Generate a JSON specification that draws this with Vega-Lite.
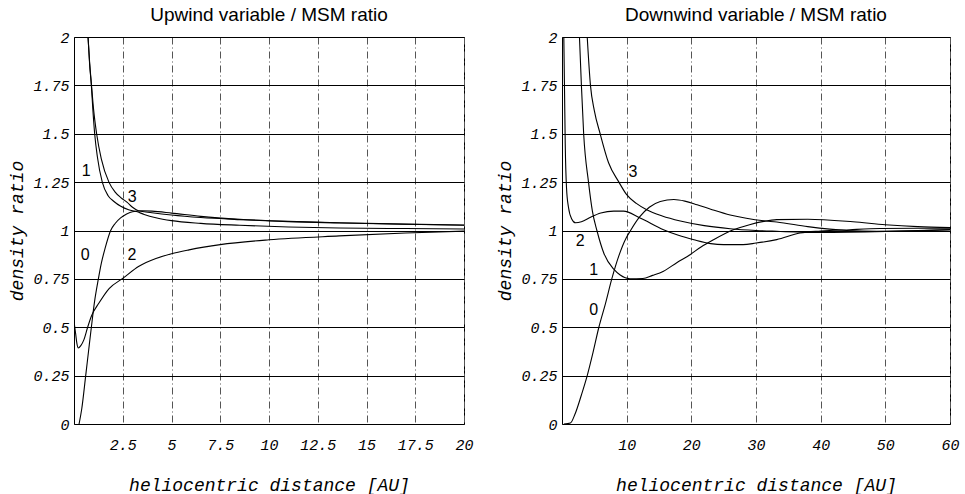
{
  "$schema": "https://vega.github.io/schema/vega-lite/v6.json",
  "background": "white",
  "padding": {"left": 8, "top": 5, "right": 5, "bottom": 0},
  "bounds": "flush",
  "spacing": 98,
  "config": {
    "view": {"stroke": "black", "strokeWidth": 1},
    "axis": {
      "labelFont": "Liberation Mono", "labelFontStyle": "italic", "labelFontSize": 15, "labelColor": "black",
      "titleFont": "Liberation Mono", "titleFontStyle": "italic", "titleFontWeight": "normal", "titleFontSize": 18, "titleColor": "black",
      "domain": false, "ticks": false, "labelFlush": false, "labelOverlap": false
    },
    "axisX": {"gridColor": "#555", "gridDash": [7, 3, 1, 3], "gridWidth": 1, "gridOpacity": 1, "labelPadding": 13, "titlePadding": 24},
    "axisY": {"gridColor": "black", "gridWidth": 1, "gridOpacity": 1, "labelPadding": 5, "titlePadding": 6},
    "title": {"font": "Liberation Sans", "fontSize": 19, "fontWeight": "normal", "color": "black", "offset": 5, "anchor": "middle"}
  },
  "datasets": {
    "up": [
      {"c": 0, "x": 0.26, "y": 0}, {"c": 0, "x": 0.4, "y": 0.08}, {"c": 0, "x": 0.6, "y": 0.25}, {"c": 0, "x": 0.75, "y": 0.38}, {"c": 0, "x": 0.89, "y": 0.5}, {"c": 0, "x": 1.05, "y": 0.63}, {"c": 0, "x": 1.25, "y": 0.75}, {"c": 0, "x": 1.4, "y": 0.83}, {"c": 0, "x": 1.6, "y": 0.91}, {"c": 0, "x": 1.88, "y": 1.0}, {"c": 0, "x": 2.1, "y": 1.035}, {"c": 0, "x": 2.39, "y": 1.065}, {"c": 0, "x": 2.7, "y": 1.085}, {"c": 0, "x": 3.0, "y": 1.097}, {"c": 0, "x": 3.5, "y": 1.102}, {"c": 0, "x": 4, "y": 1.1}, {"c": 0, "x": 5, "y": 1.09}, {"c": 0, "x": 6.5, "y": 1.073}, {"c": 0, "x": 8.5, "y": 1.058}, {"c": 0, "x": 11, "y": 1.047}, {"c": 0, "x": 13.6, "y": 1.04}, {"c": 0, "x": 17, "y": 1.033}, {"c": 0, "x": 20, "y": 1.028},
      {"c": 1, "x": 0.72, "y": 2.0}, {"c": 1, "x": 0.8, "y": 1.86}, {"c": 1, "x": 0.89, "y": 1.75}, {"c": 1, "x": 0.97, "y": 1.62}, {"c": 1, "x": 1.06, "y": 1.5}, {"c": 1, "x": 1.2, "y": 1.38}, {"c": 1, "x": 1.45, "y": 1.25}, {"c": 1, "x": 1.75, "y": 1.18}, {"c": 1, "x": 2.05, "y": 1.15}, {"c": 1, "x": 2.4, "y": 1.125}, {"c": 1, "x": 2.8, "y": 1.107}, {"c": 1, "x": 3.2, "y": 1.098}, {"c": 1, "x": 3.6, "y": 1.083}, {"c": 1, "x": 4.2, "y": 1.066}, {"c": 1, "x": 5, "y": 1.051}, {"c": 1, "x": 6.5, "y": 1.037}, {"c": 1, "x": 8.5, "y": 1.027}, {"c": 1, "x": 11, "y": 1.018}, {"c": 1, "x": 13.6, "y": 1.013}, {"c": 1, "x": 17, "y": 1.01}, {"c": 1, "x": 20, "y": 1.008},
      {"c": 3, "x": 0.72, "y": 2.0}, {"c": 3, "x": 0.8, "y": 1.87}, {"c": 3, "x": 0.89, "y": 1.76}, {"c": 3, "x": 1.0, "y": 1.63}, {"c": 3, "x": 1.16, "y": 1.5}, {"c": 3, "x": 1.4, "y": 1.37}, {"c": 3, "x": 1.79, "y": 1.25}, {"c": 3, "x": 2.1, "y": 1.2}, {"c": 3, "x": 2.4, "y": 1.17}, {"c": 3, "x": 2.73, "y": 1.145}, {"c": 3, "x": 3.0, "y": 1.12}, {"c": 3, "x": 3.3, "y": 1.102}, {"c": 3, "x": 4, "y": 1.092}, {"c": 3, "x": 5, "y": 1.08}, {"c": 3, "x": 6.5, "y": 1.067}, {"c": 3, "x": 8.5, "y": 1.056}, {"c": 3, "x": 11, "y": 1.046}, {"c": 3, "x": 13.6, "y": 1.039}, {"c": 3, "x": 17, "y": 1.032}, {"c": 3, "x": 20, "y": 1.027},
      {"c": 2, "x": 0, "y": 0.53}, {"c": 2, "x": 0.08, "y": 0.47}, {"c": 2, "x": 0.15, "y": 0.415}, {"c": 2, "x": 0.22, "y": 0.393}, {"c": 2, "x": 0.35, "y": 0.405}, {"c": 2, "x": 0.51, "y": 0.436}, {"c": 2, "x": 0.7, "y": 0.5}, {"c": 2, "x": 0.89, "y": 0.557}, {"c": 2, "x": 1.28, "y": 0.625}, {"c": 2, "x": 1.8, "y": 0.7}, {"c": 2, "x": 2.48, "y": 0.751}, {"c": 2, "x": 3.33, "y": 0.815}, {"c": 2, "x": 4.2, "y": 0.855}, {"c": 2, "x": 5, "y": 0.88}, {"c": 2, "x": 5.9, "y": 0.9}, {"c": 2, "x": 7.5, "y": 0.927}, {"c": 2, "x": 10, "y": 0.952}, {"c": 2, "x": 13.6, "y": 0.972}, {"c": 2, "x": 17, "y": 0.987}, {"c": 2, "x": 20, "y": 0.997}
    ],
    "down": [
      {"c": 0, "x": 0.3, "y": 0}, {"c": 0, "x": 1.3, "y": 0.005}, {"c": 0, "x": 2, "y": 0.05}, {"c": 0, "x": 3, "y": 0.15}, {"c": 0, "x": 3.9, "y": 0.25}, {"c": 0, "x": 4.8, "y": 0.37}, {"c": 0, "x": 5.7, "y": 0.5}, {"c": 0, "x": 6.7, "y": 0.62}, {"c": 0, "x": 7.7, "y": 0.75}, {"c": 0, "x": 8.8, "y": 0.87}, {"c": 0, "x": 9.9, "y": 0.96}, {"c": 0, "x": 10.6, "y": 1.0}, {"c": 0, "x": 12, "y": 1.07}, {"c": 0, "x": 13.5, "y": 1.12}, {"c": 0, "x": 15.2, "y": 1.15}, {"c": 0, "x": 17.3, "y": 1.16}, {"c": 0, "x": 19, "y": 1.152}, {"c": 0, "x": 20.9, "y": 1.133}, {"c": 0, "x": 23, "y": 1.11}, {"c": 0, "x": 26, "y": 1.08}, {"c": 0, "x": 28.5, "y": 1.063}, {"c": 0, "x": 31.2, "y": 1.05}, {"c": 0, "x": 33.2, "y": 1.044}, {"c": 0, "x": 38, "y": 1.02}, {"c": 0, "x": 44, "y": 1.0}, {"c": 0, "x": 48.7, "y": 0.996}, {"c": 0, "x": 55, "y": 0.998}, {"c": 0, "x": 60, "y": 1.003},
      {"c": 1, "x": 2.7, "y": 2.0}, {"c": 1, "x": 3.0, "y": 1.75}, {"c": 1, "x": 3.35, "y": 1.5}, {"c": 1, "x": 4.1, "y": 1.25}, {"c": 1, "x": 4.7, "y": 1.1}, {"c": 1, "x": 5.4, "y": 1.0}, {"c": 1, "x": 6.5, "y": 0.88}, {"c": 1, "x": 8, "y": 0.8}, {"c": 1, "x": 9, "y": 0.77}, {"c": 1, "x": 10.5, "y": 0.751}, {"c": 1, "x": 12.5, "y": 0.752}, {"c": 1, "x": 14, "y": 0.768}, {"c": 1, "x": 15.7, "y": 0.79}, {"c": 1, "x": 17.8, "y": 0.835}, {"c": 1, "x": 19.8, "y": 0.875}, {"c": 1, "x": 21.5, "y": 0.915}, {"c": 1, "x": 23.4, "y": 0.952}, {"c": 1, "x": 26.5, "y": 1.004}, {"c": 1, "x": 29, "y": 1.03}, {"c": 1, "x": 31.2, "y": 1.047}, {"c": 1, "x": 33.2, "y": 1.056}, {"c": 1, "x": 38, "y": 1.058}, {"c": 1, "x": 45, "y": 1.045}, {"c": 1, "x": 50, "y": 1.03}, {"c": 1, "x": 55, "y": 1.02}, {"c": 1, "x": 60, "y": 1.015},
      {"c": 2, "x": 0.28, "y": 2.0}, {"c": 2, "x": 0.4, "y": 1.7}, {"c": 2, "x": 0.5, "y": 1.45}, {"c": 2, "x": 0.7, "y": 1.22}, {"c": 2, "x": 1.0, "y": 1.12}, {"c": 2, "x": 1.5, "y": 1.06}, {"c": 2, "x": 2.1, "y": 1.04}, {"c": 2, "x": 3, "y": 1.045}, {"c": 2, "x": 4.5, "y": 1.07}, {"c": 2, "x": 6, "y": 1.09}, {"c": 2, "x": 8, "y": 1.1}, {"c": 2, "x": 9.5, "y": 1.1}, {"c": 2, "x": 12, "y": 1.066}, {"c": 2, "x": 15.7, "y": 1.004}, {"c": 2, "x": 18, "y": 0.975}, {"c": 2, "x": 20.4, "y": 0.952}, {"c": 2, "x": 23, "y": 0.932}, {"c": 2, "x": 25, "y": 0.927}, {"c": 2, "x": 28, "y": 0.927}, {"c": 2, "x": 30, "y": 0.935}, {"c": 2, "x": 33.2, "y": 0.953}, {"c": 2, "x": 36.8, "y": 0.987}, {"c": 2, "x": 40, "y": 0.997}, {"c": 2, "x": 44.5, "y": 1.004}, {"c": 2, "x": 49.2, "y": 1.01}, {"c": 2, "x": 55, "y": 1.012}, {"c": 2, "x": 60, "y": 1.012},
      {"c": 3, "x": 3.9, "y": 2.0}, {"c": 3, "x": 4.4, "y": 1.75}, {"c": 3, "x": 5.0, "y": 1.62}, {"c": 3, "x": 5.9, "y": 1.5}, {"c": 3, "x": 7.2, "y": 1.35}, {"c": 3, "x": 8.8, "y": 1.25}, {"c": 3, "x": 10, "y": 1.185}, {"c": 3, "x": 11.5, "y": 1.14}, {"c": 3, "x": 13.1, "y": 1.107}, {"c": 3, "x": 15.5, "y": 1.075}, {"c": 3, "x": 18.3, "y": 1.049}, {"c": 3, "x": 22, "y": 1.025}, {"c": 3, "x": 26, "y": 1.009}, {"c": 3, "x": 30, "y": 1.0}, {"c": 3, "x": 33.2, "y": 0.996}, {"c": 3, "x": 40, "y": 0.99}, {"c": 3, "x": 50, "y": 0.995}, {"c": 3, "x": 60, "y": 1.005}
    ],
    "upLabels": [
      {"t": "1", "x": 0.63, "y": 1.306}, {"t": "3", "x": 2.99, "y": 1.173}, {"t": "0", "x": 0.58, "y": 0.875}, {"t": "2", "x": 2.97, "y": 0.875}
    ],
    "downLabels": [
      {"t": "3", "x": 10.97, "y": 1.302}, {"t": "2", "x": 2.83, "y": 0.944}, {"t": "1", "x": 4.9, "y": 0.797}, {"t": "0", "x": 4.9, "y": 0.591}
    ]
  },
  "hconcat": [
    {
      "width": 390, "height": 387,
      "title": {"text": "Upwind variable / MSM ratio"},
      "layer": [
        {
          "data": {"name": "up"},
          "mark": {"type": "line", "color": "black", "strokeWidth": 1.1, "clip": true, "interpolate": "monotone"},
          "encoding": {
            "x": {"field": "x", "type": "quantitative", "scale": {"domain": [0, 20], "nice": false, "zero": false},
                  "axis": {"title": "heliocentric distance [AU]", "values": [2.5, 5, 7.5, 10, 12.5, 15, 17.5, 20], "labelExpr": "'' + datum.value"}},
            "y": {"field": "y", "type": "quantitative", "scale": {"domain": [0, 2], "nice": false},
                  "axis": {"title": "density ratio", "values": [0, 0.25, 0.5, 0.75, 1, 1.25, 1.5, 1.75, 2], "labelExpr": "'' + datum.value"}},
            "detail": {"field": "c", "type": "nominal"}
          }
        },
        {
          "data": {"name": "upLabels"},
          "mark": {"type": "text", "font": "Liberation Sans", "fontSize": 16, "color": "black"},
          "encoding": {
            "x": {"field": "x", "type": "quantitative"},
            "y": {"field": "y", "type": "quantitative"},
            "text": {"field": "t"}
          }
        }
      ]
    },
    {
      "width": 388, "height": 387,
      "title": {"text": "Downwind variable / MSM ratio"},
      "layer": [
        {
          "data": {"name": "down"},
          "mark": {"type": "line", "color": "black", "strokeWidth": 1.1, "clip": true, "interpolate": "monotone"},
          "encoding": {
            "x": {"field": "x", "type": "quantitative", "scale": {"domain": [0, 60], "nice": false, "zero": false},
                  "axis": {"title": "heliocentric distance [AU]", "values": [10, 20, 30, 40, 50, 60], "labelExpr": "'' + datum.value"}},
            "y": {"field": "y", "type": "quantitative", "scale": {"domain": [0, 2], "nice": false},
                  "axis": {"title": "density ratio", "values": [0, 0.25, 0.5, 0.75, 1, 1.25, 1.5, 1.75, 2], "labelExpr": "'' + datum.value"}},
            "detail": {"field": "c", "type": "nominal"}
          }
        },
        {
          "data": {"name": "downLabels"},
          "mark": {"type": "text", "font": "Liberation Sans", "fontSize": 16, "color": "black"},
          "encoding": {
            "x": {"field": "x", "type": "quantitative"},
            "y": {"field": "y", "type": "quantitative"},
            "text": {"field": "t"}
          }
        }
      ]
    }
  ]
}
